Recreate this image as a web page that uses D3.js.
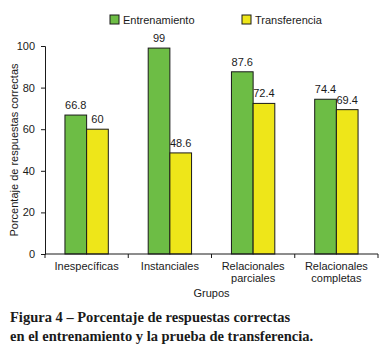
<!DOCTYPE html>
<html>
<head>
<meta charset="utf-8">
<script src="https://cdn.jsdelivr.net/npm/d3@7"></script>
<style>
  body { margin: 0; background: #fff; }
  svg text { font-family: "Liberation Sans", Arial, sans-serif; fill: #1a1a1a; }
</style>
</head>
<body>
<svg id="chart"></svg>
<script>
// données
const categories = [["Inespecíficas"], ["Instanciales"], ["Relacionales", "parciales"], ["Relacionales", "completas"]];
const series = ["Entrenamiento", "Transferencia"];
const entrenamiento = [66.8, 99, 87.6, 74.4];
const transferencia = [60, 48.6, 72.4, 69.4];
const yTicks = [0, 20, 40, 60, 80, 100];
const colors = ["#6dbd45", "#eee619"];

const svg = d3.select("#chart");
svg.attr("width", 386).attr("height", 346);

const margin = { left: 45, right: 8, top: 46, bottom: 92 };
const plotW = 386 - margin.left - margin.right;
const plotH = 346 - margin.top - margin.bottom;

const g = svg.append("g").attr("transform", `translate(${margin.left},${margin.top})`);

const keys = categories.map(c => c.join(" "));
const x0 = d3.scaleBand().domain(keys).range([0, plotW]).padding(0);
const x1 = d3.scaleBand().domain(series).range([0, x0.bandwidth()]).paddingOuter(0.92).paddingInner(0);
const y = d3.scaleLinear().domain([0, 100]).range([plotH, 0]);

const values = [entrenamiento, transferencia];
const rows = keys.map((k, i) => ({ key: k, vals: series.map((s, j) => ({ s, v: values[j][i], c: colors[j] })) }));

const groups = g.selectAll("g.grp")
  .data(rows)
  .join("g")
  .attr("transform", d => `translate(${x0(d.key)},0)`);

groups.selectAll("rect")
  .data(d => d.vals)
  .join("rect")
  .attr("x", d => x1(d.s))
  .attr("y", d => y(d.v))
  .attr("width", x1.bandwidth())
  .attr("height", d => plotH - y(d.v))
  .attr("fill", d => d.c)
  .attr("stroke", "#1a1a1a")
  .attr("stroke-width", 1);

groups.selectAll("text.val")
  .data(d => d.vals)
  .join("text")
  .attr("class", "val")
  .attr("x", d => x1(d.s) + x1.bandwidth() / 2)
  .attr("y", d => y(d.v) - 6)
  .attr("text-anchor", "middle")
  .attr("font-size", 11)
  .text(d => d.v);

// axe Y
const yAxis = g.append("g")
  .call(d3.axisLeft(y).tickValues(yTicks).tickSize(4).tickPadding(6));
yAxis.selectAll("text").attr("font-size", 11).style("font-family", "Liberation Sans, Arial, sans-serif").attr("fill", "#1a1a1a");
yAxis.selectAll("line, path").attr("stroke", "#1a1a1a");

// axe X : ticks aux limites des groupes
const xAxis = g.append("g").attr("transform", `translate(0,${plotH})`);
xAxis.append("line").attr("x1", 0).attr("x2", plotW).attr("stroke", "#1a1a1a");
xAxis.selectAll("line.tk")
  .data(d3.range(keys.length + 1))
  .join("line")
  .attr("class", "tk")
  .attr("x1", i => i * x0.step()).attr("x2", i => i * x0.step())
  .attr("y1", 0).attr("y2", 4)
  .attr("stroke", "#1a1a1a");

xAxis.selectAll("text.cat")
  .data(rows)
  .join("text")
  .attr("class", "cat")
  .attr("x", d => x0(d.key) + x0.bandwidth() / 2)
  .attr("y", 16)
  .attr("text-anchor", "middle")
  .attr("font-size", 11)
  .each(function (d, i) {
    d3.select(this).selectAll("tspan")
      .data(categories[i])
      .join("tspan")
      .attr("x", x0(d.key) + x0.bandwidth() / 2)
      .attr("dy", (t, k) => k === 0 ? 0 : 12)
      .text(t => t);
  });

g.append("text")
  .attr("x", plotW / 2)
  .attr("y", plotH + 43)
  .attr("text-anchor", "middle")
  .attr("font-size", 11)
  .text("Grupos");

g.append("text")
  .attr("transform", `translate(${-27},${plotH / 2}) rotate(-90)`)
  .attr("text-anchor", "middle")
  .attr("font-size", 11)
  .text("Porcentaje de respuestas correctas");

// légende
const legendX = [110, 242];
const legend = svg.selectAll("g.leg")
  .data(series)
  .join("g")
  .attr("transform", (d, i) => `translate(${legendX[i]},15)`);
legend.append("rect")
  .attr("width", 9).attr("height", 9)
  .attr("fill", (d, i) => colors[i])
  .attr("stroke", "#1a1a1a");
legend.append("text")
  .attr("x", 13).attr("y", 9)
  .attr("font-size", 11)
  .text(d => d);

// légende de la figure
const caption = svg.append("text")
  .attr("x", 10).attr("y", 322)
  .style("font-family", "Liberation Serif, serif")
  .attr("font-weight", "bold")
  .attr("font-size", 14.5)
  .attr("fill", "#2a2a2a");
caption.append("tspan").attr("x", 10).text("Figura 4 – Porcentaje de respuestas correctas");
caption.append("tspan").attr("x", 10).attr("dy", 19).text("en el entrenamiento y la prueba de transferencia.");
</script>
</body>
</html>
